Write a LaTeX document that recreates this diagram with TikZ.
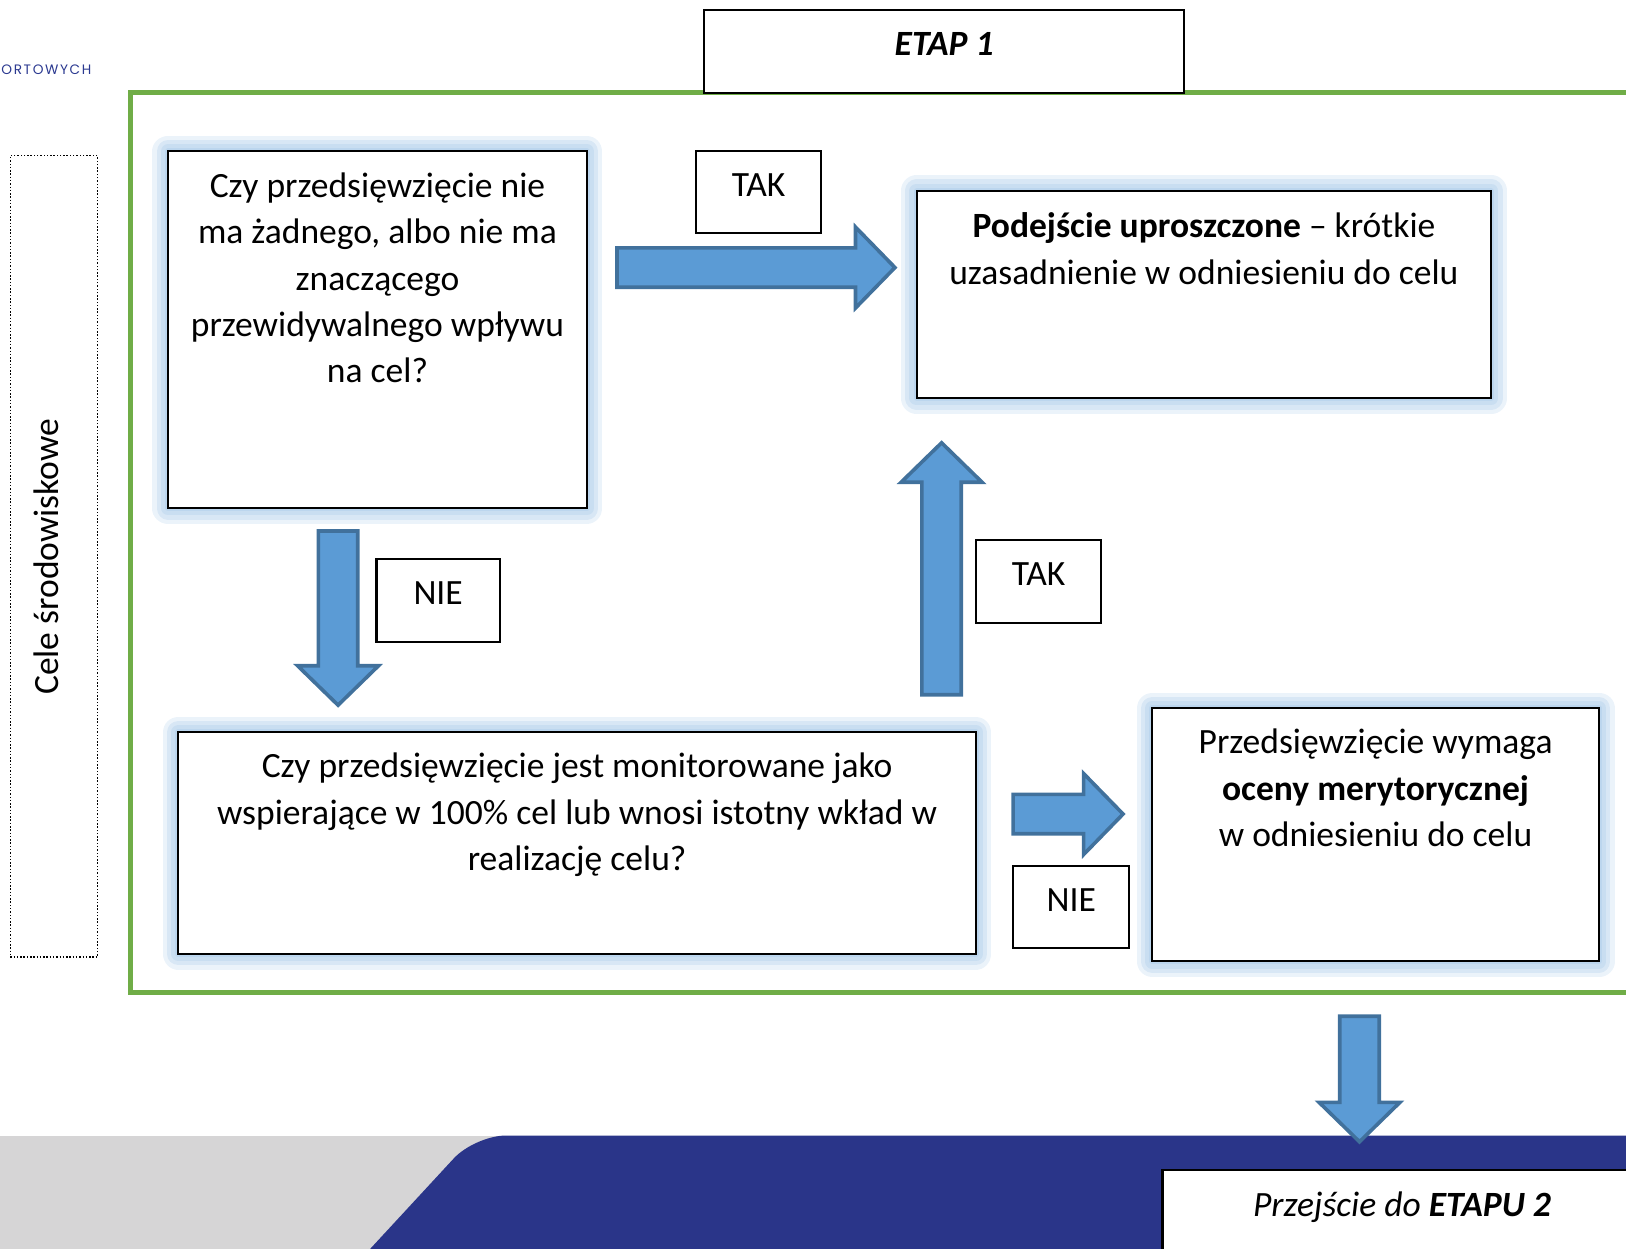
\documentclass[tikz,border=0pt]{standalone}
\usepackage{fontspec}
\setmainfont{Carlito}
\newfontfamily\logofont[LetterSpace=12]{Poppins}
\usetikzlibrary{positioning}

\definecolor{framegreen}{RGB}{112,173,71}
\definecolor{arrowfill}{RGB}{91,155,213}
\definecolor{arrowline}{RGB}{65,113,156}
\definecolor{glowblue}{RGB}{157,195,230}
\definecolor{bandblue}{RGB}{42,53,137}
\definecolor{bandgrey}{RGB}{214,213,214}
\definecolor{logoblue}{RGB}{43,57,144}

% one pixel of the layout
\newcommand\px{0.02cm}
% block arrow: start, direction, length in px
\newcommand\blockarrow[3]{%
  \draw[blockarrow, shift={(#1)}, rotate=#2]
    (0,-19) -- ({#3-40},-19) -- ({#3-40},-39) -- ({#3-2},0) -- ({#3-40},39) -- ({#3-40},19) -- (0,19) -- cycle;}

\tikzset{
  glowbox/.style={draw=black, line width=1.2pt, fill=white,
    preaction={draw=glowblue, line width=30*\px, opacity=0.2, line join=round},
    preaction={draw=glowblue, line width=22*\px, opacity=0.25, line join=round},
    preaction={draw=glowblue, line width=14*\px, opacity=0.25, line join=round},
    preaction={draw=glowblue, line width=6*\px, opacity=0.3, line join=round}},
  labelbox/.style={draw=black, line width=1.2pt, fill=white},
  txt/.style={inner sep=0pt, align=center, font=\fontsize{19.5}{25.5}\selectfont, execute at begin node=\strut},
}
\tikzset{blockarrow/.style={draw=arrowline, fill=arrowfill, line width=0.07cm, line join=miter}}

\begin{document}
\begin{tikzpicture}[x=\px, y=-\px]
	\useasboundingbox (0,0) rectangle (1568,1204);
	\clip (0,0) rectangle (1568,1204);
	% bottom band
	\fill[bandgrey] (0,1095) rectangle (620,1240);
	\fill[bandblue, rounded corners=0.6cm] (324,1240) -- (458,1095) -- (1640,1095) -- (1640,1240) -- cycle;
	% frame of stage 1
	\draw[framegreen, line width=0.09cm] (126,89) rectangle (1640,957);
	\node[draw, densely dotted, line width=0.8pt, minimum width=84*\px, minimum height=773*\px] (cele) at (52,536.5) {};
	\node[rotate=90, font=\fontsize{19.5}{25.5}\selectfont] (celet) at (45,537) {Cele środowiskowe};
	\node[anchor=west, inner sep=0pt, text=logoblue, font=\logofont\fontsize{7.5}{9}\selectfont] (logo) at (1,67) {ORTOWYCH};
	% boxes
	\node[labelbox, minimum width=463*\px, minimum height=80*\px] (etap) at (910.5,50) {};
	\node[glowbox, minimum width=404*\px, minimum height=344*\px] (q1) at (364,318) {};
	\node[glowbox, minimum width=554*\px, minimum height=200*\px] (simple) at (1161,284) {};
	\node[glowbox, minimum width=769*\px, minimum height=214*\px] (q2) at (556.5,813) {};
	\node[glowbox, minimum width=431*\px, minimum height=244*\px] (full) at (1326.5,805) {};
	\node[labelbox, minimum width=121*\px, minimum height=79*\px] (tak1) at (731.5,185.5) {};
	\node[labelbox, minimum width=119*\px, minimum height=80*\px] (nie1) at (422.5,579) {};
	\node[labelbox, minimum width=121*\px, minimum height=80*\px] (tak2) at (1001.5,561) {};
	\node[labelbox, minimum width=112*\px, minimum height=79*\px] (nie2) at (1033,874.5) {};
	\node[labelbox, minimum width=462*\px, minimum height=140*\px] (etap2) at (1352,1198) {};
	% arrows
	\coordinate (tak1s) at (595,258);
	\coordinate (nie1s) at (326,512);
	\coordinate (tak2s) at (908,670);
	\coordinate (nie2s) at (977,785);
	\coordinate (nexts) at (1311,980);
	\blockarrow{tak1s}{0}{270}
	\blockarrow{nie1s}{-90}{170}
	\blockarrow{tak2s}{90}{245}
	\blockarrow{nie2s}{0}{108}
	\blockarrow{nexts}{-90}{123}
	% texts
	\node[txt, below=0.26cm of etap.north] (etapt) {\textbf{\textit{ETAP 1}}};
	\node[txt, below=0.42cm of q1.north] (q1t) {Czy przedsięwzięcie nie\\ma żadnego, albo nie ma\\znaczącego\\przewidywalnego wpływu\\na cel?};
	\node[txt, below=0.44cm of simple.north] (simplet) {\textbf{Podejście uproszczone} – krótkie\\uzasadnienie w odniesieniu do celu};
	\node[txt, below=0.42cm of q2.north] (q2t) {Czy przedsięwzięcie jest monitorowane jako\\wspierające w 100\% cel lub wnosi istotny wkład w\\realizację celu?};
	\node[txt, below=0.42cm of full.north] (fullt) {Przedsięwzięcie wymaga\\\textbf{oceny merytorycznej}\\w odniesieniu do celu};
	\node[txt, below=0.26cm of tak1.north] (tak1t) {TAK};
	\node[txt, below=0.27cm of nie1.north] (nie1t) {NIE};
	\node[txt, below=0.26cm of tak2.north] (tak2t) {TAK};
	\node[txt, below=0.27cm of nie2.north] (nie2t) {NIE};
	\node[txt, below=0.28cm of etap2.north] (etap2t) {\textit{Przejście do \textbf{ETAPU 2}}};
\end{tikzpicture}
\end{document}
